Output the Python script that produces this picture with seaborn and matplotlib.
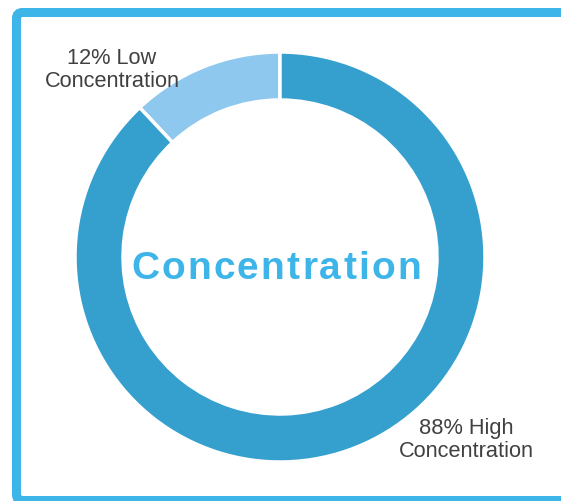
import matplotlib
matplotlib.use("Agg")
import matplotlib.pyplot as plt
from matplotlib.patches import FancyBboxPatch
from matplotlib.font_manager import FontProperties
import seaborn as sns

# Data
segments = ["Low Concentration", "High Concentration"]
shares = [12, 88]
seg_colors = ["#8fc8ee", "#35a0ce"]
title_text = "Concentration"

sns.set_theme(style="white")
plt.rcParams["font.family"] = ["Liberation Sans", "DejaVu Sans"]

W, H = 561, 501
fig = plt.figure(figsize=(W / 100, H / 100), dpi=100)
ax = fig.add_axes([0, 0, 1, 1])

# Frame around the chart (open on the right side)
frame = FancyBboxPatch((16.5, 0.5), 700, 488, boxstyle="round,pad=0,rounding_size=6",
                       linewidth=6.5, edgecolor="#3db5e8", facecolor="none",
                       transform=ax.transData, clip_on=False)
ax.add_patch(frame)

cx, cy, r = 280, H - 257, 205
ax.pie(shares, colors=seg_colors, startangle=90, counterclock=True,
       center=(cx, cy), radius=r, frame=True,
       wedgeprops=dict(width=48, edgecolor="white", linewidth=2.5))
ax.set_xlim(0, W)
ax.set_ylim(0, H)
ax.set_aspect("equal")
ax.axis("off")

lab_kw = dict(ha="center", va="center", fontsize=15.7, color="#404040", linespacing=1.1)
ax.text(112, H - 70, f"{shares[0]}% Low\nConcentration", **lab_kw)
ax.text(466, H - 440, f"{shares[1]}% High\nConcentration", **lab_kw)

# Centre title with letter spacing, drawn one character at a time
prop = FontProperties(family=["Liberation Sans", "DejaVu Sans"], weight="bold", size=28)
renderer = fig.canvas.get_renderer()


def adv(s):
    if not s:
        return 0.0
    w, _, _ = renderer.get_text_width_height_descent(s, prop, ismath=False)
    return w


target_w = 290
base_w = adv(title_text)
gap = (target_w - base_w) / (len(title_text) - 1)
x0 = cx - 4 - target_w / 2
for i, ch in enumerate(title_text):
    x = x0 + adv(title_text[:i]) + i * gap
    ax.text(x, H - 279, ch, ha="left", va="baseline", fontproperties=prop,
            color="#3db5e8")

fig.savefig("out.png", dpi=100)
